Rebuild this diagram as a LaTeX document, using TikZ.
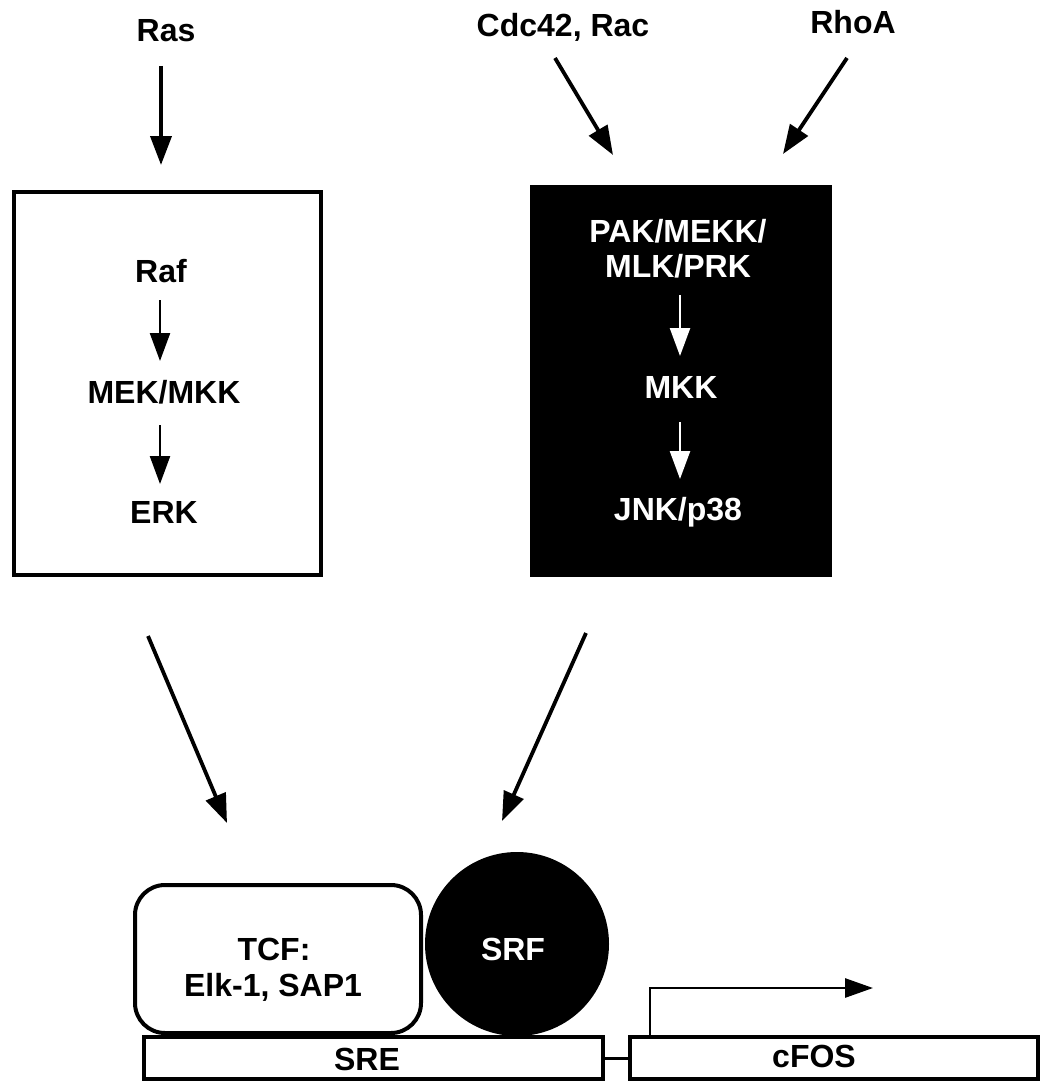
\documentclass[tikz,border=0pt]{standalone}
\usepackage{fontspec}
\setmainfont{Liberation Sans}
\usetikzlibrary{arrows.meta}
\begin{document}
\begin{tikzpicture}[x=1pt,y=-1pt,
  lbl/.style={font=\fontsize{32}{36}\selectfont\bfseries, inner sep=0pt, anchor=base},
  wlbl/.style={lbl, text=white},
  bigarrow/.style={line width=3.8pt, -{Triangle[length=29pt,width=21pt]}},
  smallarrow/.style={line width=2.4pt, -{Triangle[length=28pt,width=20pt]}},
  wsmallarrow/.style={smallarrow, draw=white, fill=white},
  tssarrow/.style={line width=2.8pt, -{Triangle[length=28pt,width=19pt]}},
  dnabox/.style={draw, line width=4pt, inner sep=0pt, minimum height=42pt}
]
\useasboundingbox (0,0) rectangle (1041,1081);

% top inputs
\node[lbl] (ras) at (166,42) {Ras};
\node[lbl] (cdc) at (563,37) {Cdc42, Rac};
\node[lbl] (rhoa) at (853,34) {RhoA};

\coordinate (rasS) at (161,66);
\coordinate (rasE) at (161,165);
\coordinate (cdcS) at (555,58);
\coordinate (cdcE) at (613,155);
\coordinate (rhoS) at (847,58);
\coordinate (rhoE) at (783,154);
\draw[bigarrow] (rasS) -- (rasE);
\draw[bigarrow] (cdcS) -- (cdcE);
\draw[bigarrow] (rhoS) -- (rhoE);

% left (ERK) box
\node[draw, line width=4pt, inner sep=0pt, minimum width=307pt, minimum height=383pt] (erkbox) at (167.5,383.5) {};
\node[lbl] (raf) at (161,282) {Raf};
\node[lbl] (mek) at (164,403) {MEK/MKK};
\node[lbl] (erk) at (164,523) {ERK};
\coordinate (a1s) at (160,300);
\coordinate (a1e) at (160,361);
\coordinate (a2s) at (160,425);
\coordinate (a2e) at (160,484);
\draw[smallarrow] (a1s) -- (a1e);
\draw[smallarrow] (a2s) -- (a2e);

% right (JNK) box
\node[fill=black, inner sep=0pt, minimum width=302pt, minimum height=392pt] (jnkbox) at (681,381) {};
\node[wlbl] (pak1) at (678,242) {PAK/MEKK/};
\node[wlbl] (pak2) at (678,277) {MLK/PRK};
\node[wlbl] (mkk) at (681,398) {MKK};
\node[wlbl] (jnk) at (678,520) {JNK/p38};
\coordinate (b1s) at (680,295);
\coordinate (b1e) at (680,356);
\coordinate (b2s) at (680,422);
\coordinate (b2e) at (680,479);
\draw[wsmallarrow] (b1s) -- (b1e);
\draw[wsmallarrow] (b2s) -- (b2e);

% arrows down to the promoter
\coordinate (c1s) at (148,636);
\coordinate (c1e) at (227,823);
\coordinate (c2s) at (586,633);
\coordinate (c2e) at (502,821);
\draw[bigarrow] (c1s) -- (c1e);
\draw[bigarrow] (c2s) -- (c2e);

% TCF and SRF
\node[draw, line width=4pt, rounded corners=30pt, inner sep=0pt, minimum width=286pt, minimum height=148pt] (tcf) at (278,959) {};
\node[lbl] (tcf1) at (274,960) {TCF:};
\node[lbl] (tcf2) at (273,996) {Elk-1, SAP1};
\node[circle, fill=black, inner sep=0pt, minimum size=184pt] (srf) at (517,944) {};
\node[wlbl] (srft) at (513,960) {SRF};

% DNA
\node[dnabox, minimum width=459pt] (sre) at (373,1058) {};
\node[lbl] (sret) at (367,1070) {SRE};
\node[dnabox, minimum width=408pt] (cfos) at (834,1058) {};
\node[lbl] (cfost) at (814,1067) {cFOS};
\draw[line width=3pt] (sre.east) -- (cfos.west);

\coordinate (tss) at (650,1037);
\coordinate (tse) at (873,988);
\draw[tssarrow] (tss) |- (tse);
\end{tikzpicture}
\end{document}
